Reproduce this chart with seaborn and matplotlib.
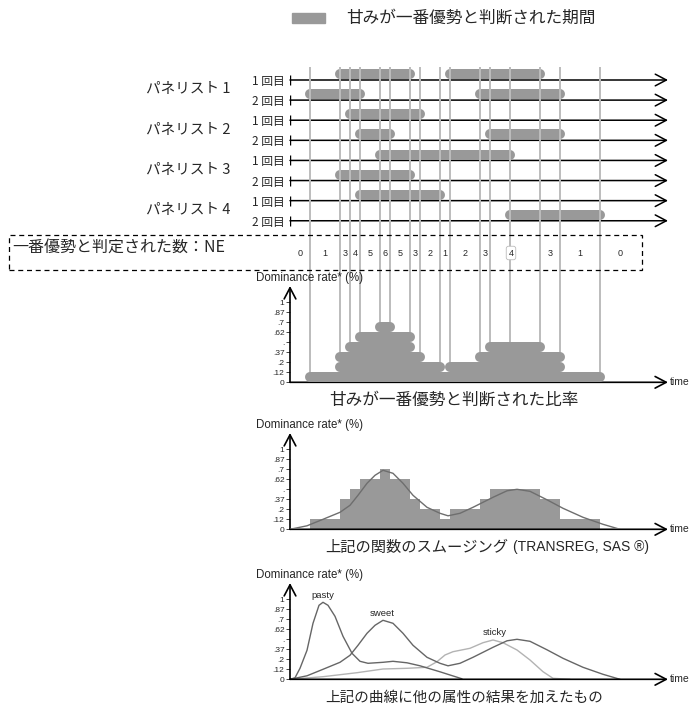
import numpy as np
import matplotlib
matplotlib.use("Agg")
import matplotlib.pyplot as plt
import matplotlib.transforms as mtransforms
from matplotlib.patches import Rectangle
import seaborn as sns

# periods where sweetness was judged dominant (time units), one list per panelist/session
p1_s1 = [(5, 12), (16, 25)]
p1_s2 = [(2, 7), (19, 27)]
p2_s1 = [(6, 13)]
p2_s2 = [(7, 10), (20, 27)]
p3_s1 = [(9, 22)]
p3_s2 = [(5, 12)]
p4_s1 = [(7, 15)]
p4_s2 = [(22, 31)]
rows = [p1_s1, p1_s2, p2_s1, p2_s2, p3_s1, p3_s2, p4_s1, p4_s2]

panelists = ["パネリスト 1", "パネリスト 2", "パネリスト 3", "パネリスト 4"]
sessions = ["1 回目", "2 回目"]

# number of times sweetness was dominant (NE) between boundaries
ne_bounds = [0, 2, 5, 6, 7, 9, 10, 12, 13, 15, 16, 19, 20, 25, 27, 31, 35]
ne_counts = [0, 1, 3, 4, 5, 6, 5, 3, 2, 1, 2, 3, 4, 3, 1, 0]

rate_labels = ["0", ".12", ".2", ".37", ".", ".62", ".7", ".87", "1"]

# smoothed curves (time, level)
sweet_t = [0, 1.7, 3.3, 5.0, 6.0, 6.8, 7.7, 8.5, 9.3, 10.3, 11.3, 12.3, 13.7, 15.0, 15.8,
           17.0, 18.3, 20.3, 21.7, 22.7, 24.0, 25.7, 27.3, 29.3, 31.3, 33.0]
sweet_y = [0, 0.35, 1.0, 1.7, 2.4, 3.4, 4.6, 5.4, 5.9, 5.6, 4.6, 3.4, 2.2, 1.6, 1.35,
           1.6, 2.2, 3.2, 3.85, 4.0, 3.8, 2.95, 2.1, 1.2, 0.5, 0]
pasty_t = [0, 0.5, 1.0, 1.7, 2.3, 2.9, 3.3, 3.8, 4.5, 5.3, 6.2, 7.0, 7.8, 9.3, 10.3,
           11.7, 13.0, 15.0, 17.2]
pasty_y = [0, 0.15, 1.1, 2.9, 5.6, 7.4, 7.7, 7.4, 6.3, 4.3, 2.6, 1.8, 1.6, 1.7, 1.8,
           1.65, 1.35, 0.75, 0.05]
sticky_t = [0, 3.3, 6.7, 9.3, 11.7, 13.7, 14.7, 15.5, 16.3, 18.0, 19.3, 20.3, 21.3,
            22.7, 24.0, 25.3, 26.3, 28.0]
sticky_y = [0, 0.26, 0.66, 1.03, 1.1, 1.2, 1.76, 2.43, 2.76, 3.1, 3.66, 3.93, 3.66,
            2.93, 1.93, 0.76, 0.1, 0]

sns.set_style("white")
plt.rcParams["font.family"] = ["Liberation Sans", "Noto Sans CJK JP", "DejaVu Sans"]
JP = ["Noto Sans CJK JP", "DejaVu Sans"]
BAR = "#999999"
VLINE = "#bcbcbc"

W, H = 693, 708
fig = plt.figure(figsize=(W / 100, H / 100), dpi=100)


def box(x0, y0, x1, y1):
    return [x0 / W, 1 - y1 / H, (x1 - x0) / W, (y1 - y0) / H]


def ftext(x, y, s, **kw):
    fig.text(x / W, 1 - y / H, s, **kw)


T_MAX = 37.8

# ---- timelines of each panelist
ax_tl = fig.add_axes(box(290, 60, 668, 230))
ax_tl.set_xlim(0, T_MAX)
ax_tl.set_ylim(7.46, -0.995)
for s in ax_tl.spines.values():
    s.set_visible(False)
ax_tl.set_xticks([])
ax_tl.set_yticks(range(len(rows)))
ax_tl.set_yticklabels(sessions * len(panelists), family=JP, fontsize=8.5)
ax_tl.tick_params(axis="y", length=0, pad=4)
ax_tl.patch.set_alpha(0)

for i, periods in enumerate(rows):
    ax_tl.annotate("", xy=(T_MAX, i), xytext=(0, i),
                   arrowprops=dict(arrowstyle="->,head_length=0.8,head_width=0.42",
                                   lw=1.1, color="black", shrinkA=0, shrinkB=0))
    ax_tl.vlines(0, i - 0.25, i + 0.25, color="black", lw=1)
    for a, b in periods:
        ax_tl.plot([a, b], [i - 0.29, i - 0.29], lw=7.2, color=BAR,
                   solid_capstyle="round", zorder=3)

lab_tr = mtransforms.blended_transform_factory(fig.transFigure, ax_tl.transData)
for p, name in enumerate(panelists):
    ax_tl.text(230 / W, 2 * p + 0.42, name, transform=lab_tr, ha="right",
               va="center", family=JP, fontsize=10.5)


def rate_axes(y_top, y_base):
    ax = fig.add_axes(box(290, y_top, 668, y_base))
    ax.set_xlim(0, T_MAX)
    ax.set_ylim(0, (y_base - y_top) / 10)
    for s in ax.spines.values():
        s.set_visible(False)
    ax.set_xticks([])
    ax.set_yticks(range(len(rate_labels)))
    ax.set_yticklabels(rate_labels)
    ax.tick_params(axis="y", direction="out", length=3, width=0.6, pad=1,
                   labelsize=6, left=True)
    ax.patch.set_alpha(0)
    top = (y_base - y_top) / 10
    ax.annotate("", xy=(T_MAX, 0), xytext=(0, 0),
                arrowprops=dict(arrowstyle="->,head_length=0.8,head_width=0.42",
                                lw=1.2, color="black", shrinkA=0, shrinkB=0),
                annotation_clip=False)
    ax.annotate("", xy=(0, top), xytext=(0, 0),
                arrowprops=dict(arrowstyle="->,head_length=0.8,head_width=0.42",
                                lw=1.2, color="black", shrinkA=0, shrinkB=0),
                annotation_clip=False)
    ftext(309, y_top - 8, "Dominance rate* (%)", ha="center", va="center", fontsize=8.3)
    ftext(670, y_base, "time", ha="left", va="center", fontsize=7.5)
    return ax


# ---- chart 1: stacked counts
ax1 = rate_axes(286, 382.3)


def count_at(t):
    k = np.searchsorted(ne_bounds, t, side="right") - 1
    if 0 <= k < len(ne_counts):
        return ne_counts[k]
    return 0


for k in range(1, max(ne_counts) + 1):
    start = None
    for j, c in enumerate(ne_counts):
        if c >= k and start is None:
            start = ne_bounds[j]
        if c < k and start is not None:
            ax1.plot([start, ne_bounds[j]], [k - 0.5, k - 0.5], lw=7.2, color=BAR,
                     solid_capstyle="round", zorder=3, clip_on=False)
            start = None

# vertical guide lines at every start/end of a period
edges = sorted({e for periods in rows for pr in periods for e in pr})
top_disp = ax_tl.transData.transform((0, -0.65))
line_top = ax1.transData.inverted().transform(top_disp)[1]
for t in edges:
    lo = max(count_at(t - 0.01), count_at(t + 0.01)) - 0.5
    ax1.vlines(t, lo, line_top, color=VLINE, lw=1.4, zorder=1, clip_on=False)

# NE box
fig.patches.append(Rectangle((9 / W, 1 - 270 / H), 633 / W, 35 / H, fill=False,
                             ec="black", lw=0.9, ls=(0, (4, 3)),
                             transform=fig.transFigure))
ftext(12, 247, "一番優勢と判定された数：NE", ha="left", va="center", family=JP, fontsize=11.5)
ne_tr = mtransforms.blended_transform_factory(ax1.transData, fig.transFigure)
for j, c in enumerate(ne_counts):
    a, b = ne_bounds[j], ne_bounds[j + 1]
    inner = [t for t in edges if a < t < b]
    if inner:
        ax1.text(inner[0] + 0.1, 1 - 253 / H, str(c), transform=ne_tr, ha="center",
                 va="center", fontsize=6.5, zorder=5,
                 bbox=dict(boxstyle="round,pad=0.25", fc="white", ec="#bbbbbb", lw=0.6))
    else:
        ax1.text((a + b) / 2, 1 - 253 / H, str(c), transform=ne_tr, ha="center",
                 va="center", fontsize=6.5)

ftext(454, 400.5, "甘みが一番優勢と判断された比率", ha="center", va="center", family=JP, fontsize=12)

# ---- chart 2: histogram + smoothing
ax2 = rate_axes(433, 529.3)
ax2.bar(ne_bounds[:-1], ne_counts, width=np.diff(ne_bounds), align="edge",
        color=BAR, linewidth=0, zorder=1)
sns.lineplot(x=sweet_t, y=sweet_y, ax=ax2, color="#6e6e6e", lw=1.0, sort=False,
             estimator=None, zorder=3)
ftext(325, 547.5, "上記の関数のスムージング", ha="left", va="center", family=JP, fontsize=11)
ftext(513, 546.5, "(TRANSREG, SAS ®)", ha="left", va="center", fontsize=10)

# ---- chart 3: all attributes
ax3 = rate_axes(583, 679.3)
sns.lineplot(x=sticky_t, y=sticky_y, ax=ax3, color="#b3b3b3", lw=1.0, sort=False,
             estimator=None)
sns.lineplot(x=pasty_t, y=pasty_y, ax=ax3, color="#666666", lw=1.0, sort=False,
             estimator=None)
sns.lineplot(x=sweet_t, y=sweet_y, ax=ax3, color="#666666", lw=1.0, sort=False,
             estimator=None)
ax3.text(3.3, 8.35, "pasty", ha="center", va="center", fontsize=6.8)
ax3.text(9.2, 6.6, "sweet", ha="center", va="center", fontsize=6.8)
ax3.text(20.5, 4.66, "sticky", ha="center", va="center", fontsize=6.8)
ftext(464, 698, "上記の曲線に他の属性の結果を加えたもの", ha="center", va="center",
      family=JP, fontsize=10.5)

# ---- legend
fig.patches.append(Rectangle((292 / W, 1 - 23 / H), 33 / W, 10 / H, color=BAR,
                             transform=fig.transFigure))
ftext(346, 18, "甘みが一番優勢と判断された期間", ha="left", va="center", family=JP, fontsize=12)

fig.savefig("out.png", dpi=100)
